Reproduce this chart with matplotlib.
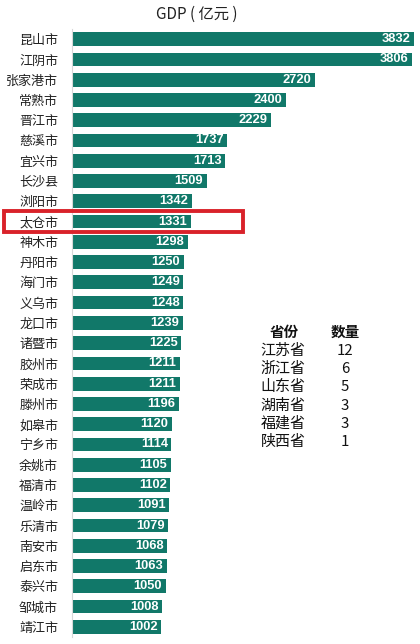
import matplotlib
matplotlib.use("Agg")
import matplotlib.pyplot as plt
from matplotlib.patches import Rectangle
import matplotlib.transforms as mtransforms

cities = ["昆山市", "江阴市", "张家港市", "常熟市", "晋江市", "慈溪市", "宜兴市", "长沙县",
          "浏阳市", "太仓市", "神木市", "丹阳市", "海门市", "义乌市", "龙口市", "诸暨市",
          "胶州市", "荣成市", "滕州市", "如皋市", "宁乡市", "余姚市", "福清市", "温岭市",
          "乐清市", "南安市", "启东市", "泰兴市", "邹城市", "靖江市"]
gdp = [3832, 3806, 2720, 2400, 2229, 1737, 1713, 1509, 1342, 1331, 1298, 1250, 1249, 1248,
       1239, 1225, 1211, 1211, 1196, 1120, 1114, 1105, 1102, 1091, 1079, 1068, 1063, 1050,
       1008, 1002]
highlight = "太仓市"
provinces = ["江苏省", "浙江省", "山东省", "湖南省", "福建省", "陕西省"]
counts = [12, 6, 5, 3, 3, 1]
title = "GDP ( 亿元 )"

CJK = ["Noto Sans CJK SC", "DejaVu Sans"]
plt.rcParams["font.family"] = CJK

W, H = 420, 644
fig = plt.figure(figsize=(W / 100, H / 100), dpi=100)
fig.patch.set_facecolor("white")
ax = fig.add_axes([72 / W, 1 - 637 / H, 346 / W, (637 - 29) / H])

color = "#117869"
n = len(cities)
ys = list(range(n))
ax.barh(ys, gdp, height=0.68, color=color, zorder=2)
ax.set_ylim(n - 0.5, -0.5)
ax.set_xlim(0, 3832 * 346 / 342)
ax.set_yticks(ys)
ax.set_yticklabels(cities, fontsize=9.4, color="#222222")
ax.tick_params(axis="y", length=0, pad=10)
ax.set_xticks([])
for s in ["top", "right", "bottom"]:
    ax.spines[s].set_visible(False)
ax.spines["left"].set_color("#d8d8d8")
ax.spines["left"].set_linewidth(0.8)

offset = mtransforms.offset_copy(ax.transData, fig=fig, x=-3.5, y=0, units="dots")
for y, v in zip(ys, gdp):
    ax.text(v, y, str(v), transform=offset, ha="right", va="center",
            color="white", fontsize=9.3, fontweight="bold",
            family=["Liberation Sans", "DejaVu Sans"])

# highlight rectangle around the chosen city row
hi = cities.index(highlight)
trans = mtransforms.blended_transform_factory(fig.transFigure, ax.transData)
rect = Rectangle((4 / W, hi - 0.52), (243 - 4) / W, 1.04, transform=trans,
                 fill=False, edgecolor="#d9222a", linewidth=2.8, clip_on=False, zorder=5)
fig.patches.append(rect)

fig.text(197 / W, 1 - 14 / H, title, ha="center", va="center", fontsize=11, color="#222222")

# province table
fig.text(284 / W, 1 - 332 / H, "省份", ha="center", va="center", fontsize=10.5,
         fontweight="bold", color="#111111")
fig.text(345 / W, 1 - 332 / H, "数量", ha="center", va="center", fontsize=10.5,
         fontweight="bold", color="#111111")
for i, (p, c) in enumerate(zip(provinces, counts)):
    yy = 1 - (351 + i * 18.2) / H
    fig.text(283 / W, yy, p, ha="center", va="center", fontsize=10.8, color="#111111")
    fig.text(345 / W, yy, str(c), ha="center", va="center", fontsize=10.8, color="#111111")

fig.savefig("out.png", dpi=100, facecolor="white")
